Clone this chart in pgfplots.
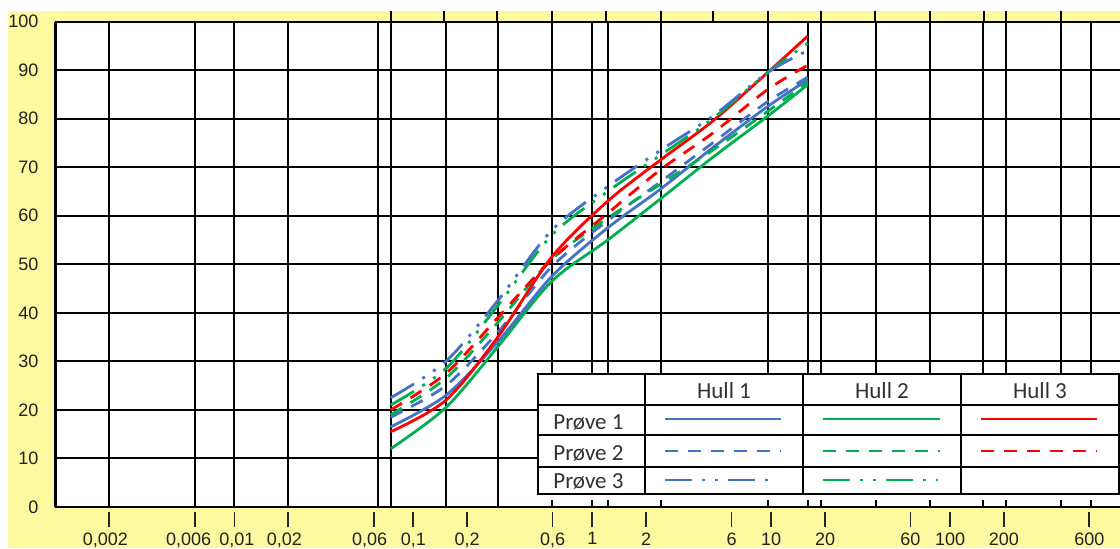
\documentclass[border=0pt]{standalone}
\usepackage{fontspec}
\setmainfont{Liberation Sans}
\newfontfamily\calibri{Carlito}
\usepackage{pgfplots}
\pgfplotsset{compat=1.18}
\definecolor{bgyellow}{RGB}{253,249,160}
\definecolor{cblue}{RGB}{68,114,196}
\definecolor{cgreen}{RGB}{0,176,80}
\definecolor{cred}{RGB}{255,0,0}
\definecolor{txt}{RGB}{34,34,34}
\definecolor{legtxt}{RGB}{50,50,50}
\tikzset{
  p1/.style={line width=1.4pt},
  p2/.style={line width=1.4pt, dash pattern=on 6.5pt off 5pt},
  p3/.style={line width=1.4pt, dash pattern=on 13.5pt off 5pt on 1.5pt off 5pt on 1.5pt off 5pt},
}
% tick label with its tick mark drawn above it (tick 2.5pt below the axis, 7.5pt long)
\newcommand{\tlab}[2][0pt]{\vbox{\offinterlineskip
  \hbox to 0pt{\hss\textcolor{black!85}{\rule{0.9pt}{7.5pt}}\hss}\kern2.6pt
  \hbox to 0pt{\hss\kern#1 #2\hss}}}
\pgfplotstableread{
x      b1   b2   b3   g1   g2   g3   r1   r2
0.0748 16.5 18.5 22.5 12.0 19.0 21.0 15.5 20.0
0.152  23.0 25.0 30.0 20.5 26.5 28.5 22.0 27.5
0.2965 34.0 36.0 42.5 33.0 38.0 41.5 35.0 39.0
0.594  47.5 49.5 57.0 46.5 51.0 56.0 51.5 51.0
1.22   57.5 59.0 66.0 55.0 59.5 65.0 63.0 60.5
2.41   65.5 67.0 73.5 63.5 66.5 72.5 71.5 69.5
4.71   74.0 75.0 80.5 72.0 73.5 80.0 79.5 77.0
9.56   82.5 83.5 89.5 80.5 81.5 89.5 89.5 86.0
16.0   88.0 88.5 94.0 87.0 87.5 95.5 97.0 91.0
}\curves
\begin{document}
\begin{tikzpicture}
\begin{scope}[x=0.5pt,y=-0.5pt,shift={(-27.75pt,253.5pt)}]
  \fill[white] (0,0) rectangle (1120,548);
  \fill[bgyellow] (8,11) rectangle (1120,548);
\end{scope}
\begin{axis}[
  at={(0,0)}, anchor=south west,
  scale only axis, width=532.25pt, height=242.75pt,
  xmode=log, xmin=0.001, xmax=890, ymin=0, ymax=100,
  axis background/.style={fill=white},
  axis x line*=bottom, axis y line*=left,
  axis line style={black, line width=1.2pt},
  /pgf/number format/assume math mode=true,
  ytick={0,10,...,100},
  ymajorgrids=true,
  major grid style={black, line width=1pt},
  ytick style={draw=none},
  xtick style={draw=none},
  yticklabel style={font=\fontsize{9}{10}\selectfont, text=txt, xshift=-5pt},
  tick align=outside, major tick length=0pt,
  xtick={0.002,0.006,0.01,0.02,0.06,0.1,0.2,0.6,1,2,6,10,20,60,100,200,600},
  xticklabels={{\tlab[-4pt]{0,002}},{\tlab[-6pt]{0,006}},{\tlab[2.5pt]{0,01}},{\tlab[-4pt]{0,02}},{\tlab[-4pt]{0,06}},{\tlab{0,1}},{\tlab{0,2}},{\tlab{0,6}},{\tlab{1}},{\tlab{2}},{\tlab{6}},{\tlab{10}},{\tlab{20}},{\tlab{60}},{\tlab{100}},{\tlab{200}},{\tlab{600}}},
  xticklabel style={font=\fontsize{9}{10}\selectfont, text=txt, anchor=north, inner sep=0pt, yshift=-2.5pt},
  xminorticks=false, yminorticks=false,
  extra x ticks={0.002,0.006,0.01,0.02,0.0633,0.0748,0.152,0.2965,0.594,1.0,1.22,2.41,9.56,16.0,19.1,38.3,76.8,153,204,414,609},
  extra x tick labels={},
  extra x tick style={grid=major},
  clip=false,
]
\addplot[cgreen, p1, smooth] table[x=x,y=g1] {\curves};
\addplot[cblue,  p1, smooth] table[x=x,y=b1] {\curves};
\addplot[cblue,  p2, smooth] table[x=x,y=b2] {\curves};
\addplot[cgreen, p2, smooth] table[x=x,y=g2] {\curves};
\addplot[cred,   p2, smooth] table[x=x,y=r2] {\curves};
\addplot[cred,   p1, smooth] table[x=x,y=r1] {\curves};
\addplot[cgreen, p3, smooth] table[x=x,y=g3] {\curves};
\addplot[cblue,  p3, smooth] table[x=x,y=b3] {\curves};
\end{axis}
% top sieve ticks in the yellow strip
\begin{axis}[
  at={(0,0)}, anchor=south west,
  scale only axis, width=532.25pt, height=242.75pt,
  xmode=log, xmin=0.001, xmax=890, ymin=0, ymax=100,
  axis x line*=top, axis y line=none,
  axis line style={draw=none},
  xtick={0.0748,0.148,0.293,0.594,1.20,2.41,4.71,9.56,19.1,37.9,76.8,155,204,414},
  xticklabels={},
  ytick=\empty,
  tick align=outside, major tick length=5.3pt,
  xtick style={black, line width=1pt},
  xminorticks=false,
]
\addplot[draw=none] coordinates {(1,50)};
\end{axis}
\begin{scope}[x=0.5pt,y=-0.5pt,shift={(-27.75pt,253.5pt)}]
  \fill[white] (538,374) rectangle (1120,500);
  \draw[black, line width=0.8pt] (538,374) rectangle (1119,494);
  \foreach \yy in {405,435,467} \draw[black, line width=0.8pt] (538,\yy) -- (1119,\yy);
  \foreach \xx in {645,803,961} \draw[black, line width=0.8pt] (\xx,374) -- (\xx,494);
  \begin{scope}[every node/.style={inner sep=0pt, text=legtxt, font=\calibri\fontsize{11.5}{13}\selectfont}]
    \node[anchor=base] at (724,398) {Hull 1};
    \node[anchor=base] at (882,398) {Hull 2};
    \node[anchor=base] at (1040,398) {Hull 3};
    \node[anchor=base west] at (553,429) {Prøve 1};
    \node[anchor=base west] at (553,460) {Prøve 2};
    \node[anchor=base west] at (553,488) {Prøve 3};
  \end{scope}
  \draw[cblue, p1] (665,419) -- (781,419);
  \draw[cgreen, p1] (823,419) -- (940,419);
  \draw[cred, p1] (981,419) -- (1097,419);
  \draw[cblue, p2] (665,451) -- (781,451);
  \draw[cgreen, p2] (823,451) -- (940,451);
  \draw[cred, p2] (981,451) -- (1097,451);
  \draw[cblue, p3] (665,480) -- (778,480);
  \draw[cgreen, p3] (823,480) -- (938,480);
\end{scope}
\pgfresetboundingbox
\path[x=0.5pt,y=-0.5pt,shift={(-27.75pt,253.5pt)}] (0,0) rectangle (1120,548);
\end{tikzpicture}
\end{document}
